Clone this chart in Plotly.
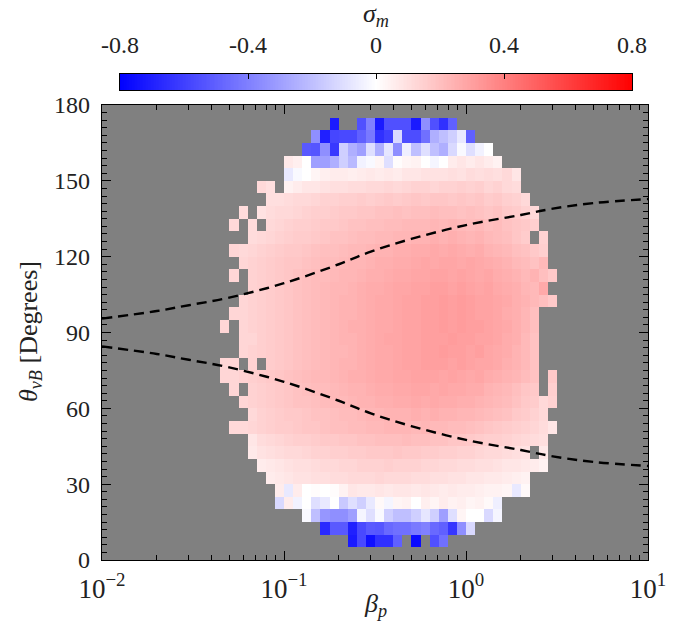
import numpy as np
import plotly.graph_objects as go

# ---------------- data ----------------
# beta_p bins: 20 per decade from 1e-2 to 1e1 ; theta_vB bins: 5 degrees from 0 to 180
BETA_LOG_MIN, BETA_LOG_MAX, BETA_BINS_PER_DECADE = -2, 1, 20
THETA_MIN, THETA_MAX, THETA_STEP = 0, 180, 5

# sigma_m rows: theta-bin index -> (first beta-bin index, values ; None = empty bin)
sigma_rows = {
    34: (25, [-0.72, None, None, -0.55, -0.4, -0.72, -0.55, -0.55, -0.55, -0.72, -0.35, -0.55, -0.65, -0.5]),
    33: (23, [-0.35, -0.7, -0.58, -0.57, -0.57, -0.5, -0.42, -0.65, -0.6, -0.12, -0.56, -0.56, -0.45, -0.25, -0.2, -0.15, -0.07, -0.5]),
    32: (22, [-0.52, -0.53, -0.35, -0.62, -0.15, -0.25, -0.3, -0.1, -0.25, -0.08, -0.35, -0.05, -0.2, -0.1, -0.2, -0.25, -0.12, -0.02, -0.1, -0.04, 0.0]),
    31: (20, [0.07, 0.05, 0.0, -0.3, -0.3, -0.25, -0.15, -0.22, -0.04, -0.02, 0.03, -0.1, 0.01, 0.03, 0.04, 0.0, -0.03, 0.0, 0.06, 0.08, 0.06, 0.08, 0.06, 0.04]),
    30: (20, [-0.07, -0.02, 0.0, 0.03, 0.05, 0.06, 0.06, 0.05, 0.06, 0.07, 0.06, 0.07, 0.06, 0.08, 0.08, 0.09, 0.09, 0.09, 0.1, 0.09, 0.11, 0.1, 0.11, 0.1, 0.12, 0.08]),
    29: (17, [0.12, 0.1, None, 0.04, 0.06, 0.08, 0.08, 0.09, 0.1, 0.1, 0.11, 0.11, 0.12, 0.12, 0.13, 0.12, 0.13, 0.14, 0.14, 0.13, 0.14, 0.14, 0.15, 0.14, 0.15, 0.13, 0.14, 0.12, 0.11]),
    28: (18, [0.1, 0.1, 0.11, 0.12, 0.12, 0.13, 0.14, 0.14, 0.15, 0.15, 0.16, 0.15, 0.16, 0.17, 0.16, 0.17, 0.18, 0.17, 0.18, 0.18, 0.17, 0.18, 0.17, 0.18, 0.16, 0.17, 0.15, 0.14, 0.12]),
    27: (15, [0.11, None, 0.09, 0.11, 0.12, 0.12, 0.13, 0.14, 0.15, 0.15, 0.16, 0.17, 0.17, 0.18, 0.18, 0.19, 0.19, 0.2, 0.19, 0.2, 0.2, 0.21, 0.2, 0.2, 0.19, 0.2, 0.19, 0.18, 0.19, 0.17, 0.16, 0.14, 0.12]),
    26: (14, [0.12, None, 0.11, None, 0.12, 0.13, 0.14, 0.15, 0.15, 0.16, 0.17, 0.17, 0.18, 0.19, 0.19, 0.2, 0.2, 0.21, 0.21, 0.22, 0.22, 0.22, 0.23, 0.22, 0.23, 0.22, 0.21, 0.22, 0.2, 0.21, 0.19, 0.18, 0.17, 0.15]),
    25: (16, [0.11, 0.12, 0.13, 0.14, 0.15, 0.16, 0.16, 0.17, 0.18, 0.19, 0.19, 0.2, 0.21, 0.21, 0.22, 0.22, 0.23, 0.23, 0.24, 0.24, 0.25, 0.24, 0.25, 0.24, 0.23, 0.24, 0.22, 0.21, 0.2, 0.18, 0.16, None, 0.14]),
    24: (14, [0.13, 0.12, 0.13, 0.14, 0.15, 0.16, 0.17, 0.17, 0.18, 0.19, 0.2, 0.2, 0.21, 0.22, 0.22, 0.23, 0.24, 0.24, 0.25, 0.25, 0.26, 0.26, 0.27, 0.26, 0.27, 0.26, 0.25, 0.26, 0.24, 0.23, 0.22, 0.2, 0.19, 0.17, 0.15]),
    23: (15, [0.13, 0.14, 0.15, 0.16, 0.17, 0.18, 0.18, 0.19, 0.2, 0.21, 0.21, 0.22, 0.23, 0.23, 0.24, 0.25, 0.25, 0.26, 0.26, 0.27, 0.28, 0.27, 0.28, 0.28, 0.27, 0.28, 0.27, 0.26, 0.25, 0.24, 0.22, 0.21, 0.19, 0.22]),
    22: (14, [0.13, None, 0.14, 0.15, 0.16, 0.17, 0.18, 0.19, 0.2, 0.21, 0.21, 0.22, 0.23, 0.23, 0.24, 0.25, 0.25, 0.26, 0.27, 0.27, 0.28, 0.28, 0.29, 0.29, 0.28, 0.29, 0.28, 0.27, 0.28, 0.26, 0.25, 0.24, 0.22, 0.24, 0.2, 0.17]),
    21: (16, [0.14, 0.15, 0.16, 0.17, 0.18, 0.19, 0.2, 0.21, 0.22, 0.23, 0.23, 0.24, 0.25, 0.26, 0.26, 0.27, 0.28, 0.28, 0.29, 0.29, 0.3, 0.3, 0.29, 0.3, 0.29, 0.28, 0.29, 0.27, 0.26, 0.25, 0.23, 0.22, 0.27]),
    20: (15, [0.13, 0.14, 0.15, 0.16, 0.17, 0.18, 0.19, 0.2, 0.21, 0.22, 0.23, 0.24, 0.24, 0.25, 0.26, 0.27, 0.27, 0.28, 0.29, 0.29, 0.3, 0.3, 0.31, 0.3, 0.31, 0.3, 0.29, 0.29, 0.28, 0.27, 0.25, 0.24, 0.22, 0.2, 0.17]),
    19: (14, [0.13, 0.13, 0.14, 0.15, 0.16, 0.17, 0.18, 0.19, 0.2, 0.21, 0.22, 0.23, 0.24, 0.24, 0.25, 0.26, 0.27, 0.27, 0.28, 0.29, 0.29, 0.3, 0.3, 0.31, 0.3, 0.31, 0.3, 0.29, 0.29, 0.28, 0.26, 0.25, 0.23, 0.2]),
    18: (13, [0.13, None, 0.13, 0.14, 0.15, 0.16, 0.17, 0.18, 0.19, 0.2, 0.21, 0.22, 0.23, 0.24, 0.25, 0.25, 0.26, 0.27, 0.27, 0.28, 0.29, 0.29, 0.3, 0.3, 0.31, 0.3, 0.31, 0.3, 0.3, 0.29, 0.28, 0.27, 0.25, 0.23, 0.2]),
    17: (15, [0.13, 0.13, 0.15, 0.16, 0.17, 0.18, 0.19, 0.2, 0.21, 0.22, 0.23, 0.24, 0.24, 0.25, 0.26, 0.27, 0.28, 0.28, 0.29, 0.29, 0.3, 0.3, 0.3, 0.31, 0.3, 0.3, 0.29, 0.29, 0.28, 0.26, 0.25, 0.22, 0.19]),
    16: (15, [0.13, 0.14, 0.15, 0.16, 0.17, 0.18, 0.19, 0.2, 0.21, 0.22, 0.23, 0.23, 0.24, 0.25, 0.26, 0.27, 0.27, 0.28, 0.29, 0.29, 0.3, 0.3, 0.31, 0.3, 0.3, 0.29, 0.3, 0.28, 0.27, 0.26, 0.24, 0.22, 0.19]),
    15: (13, [0.13, 0.13, None, 0.14, None, 0.16, 0.17, 0.18, 0.19, 0.2, 0.21, 0.22, 0.23, 0.24, 0.24, 0.25, 0.26, 0.27, 0.27, 0.28, 0.29, 0.29, 0.3, 0.3, 0.3, 0.29, 0.3, 0.29, 0.28, 0.28, 0.27, 0.25, 0.24, 0.22, 0.19]),
    14: (13, [0.13, 0.13, 0.14, 0.15, 0.16, 0.17, 0.18, 0.19, 0.2, 0.21, 0.22, 0.22, 0.23, 0.24, 0.25, 0.25, 0.26, 0.27, 0.27, 0.28, 0.28, 0.29, 0.29, 0.29, 0.28, 0.29, 0.28, 0.27, 0.28, 0.26, 0.25, 0.24, 0.23, 0.21, 0.19, None, 0.17]),
    13: (14, [0.13, None, 0.14, 0.15, 0.16, 0.17, 0.18, 0.19, 0.2, 0.21, 0.21, 0.22, 0.23, 0.24, 0.24, 0.25, 0.26, 0.26, 0.27, 0.27, 0.28, 0.28, 0.27, 0.28, 0.27, 0.27, 0.26, 0.26, 0.24, 0.23, 0.22, 0.2, 0.18, 0.17, None, 0.15]),
    12: (15, [0.13, 0.14, 0.15, 0.16, 0.17, 0.18, 0.19, 0.19, 0.2, 0.21, 0.22, 0.22, 0.23, 0.24, 0.24, 0.25, 0.25, 0.26, 0.26, 0.27, 0.26, 0.27, 0.26, 0.26, 0.25, 0.25, 0.24, 0.23, 0.22, 0.21, 0.19, 0.17, 0.16, 0.12, 0.14]),
    11: (16, [0.12, 0.14, 0.15, 0.16, 0.17, 0.17, 0.18, 0.19, 0.19, 0.2, 0.21, 0.21, 0.22, 0.23, 0.23, 0.24, 0.24, 0.24, 0.25, 0.24, 0.25, 0.24, 0.24, 0.23, 0.23, 0.22, 0.21, 0.2, 0.19, 0.17, 0.16, 0.14, 0.12]),
    10: (14, [0.12, 0.12, 0.13, 0.14, 0.15, 0.16, 0.16, 0.17, 0.18, 0.18, 0.19, 0.2, 0.2, 0.21, 0.21, 0.22, 0.22, 0.23, 0.23, 0.23, 0.22, 0.23, 0.22, 0.22, 0.21, 0.21, 0.2, 0.19, 0.18, 0.17, 0.16, 0.15, 0.14, 0.13, 0.11, 0.08]),
    9: (16, [0.08, 0.11, 0.12, 0.13, 0.14, 0.15, 0.15, 0.16, 0.17, 0.17, 0.18, 0.18, 0.19, 0.19, 0.2, 0.2, 0.2, 0.21, 0.2, 0.2, 0.19, 0.19, 0.18, 0.18, 0.17, 0.16, 0.15, 0.15, 0.14, 0.13, 0.12, 0.11, 0.1]),
    8: (16, [0.07, 0.09, 0.1, 0.11, 0.12, 0.12, 0.13, 0.14, 0.14, 0.15, 0.15, 0.16, 0.16, 0.17, 0.17, 0.17, 0.18, 0.17, 0.17, 0.16, 0.16, 0.15, 0.15, 0.14, 0.14, 0.13, 0.12, 0.12, 0.11, 0.1, 0.09, None, 0.07]),
    7: (17, [0.06, 0.07, 0.08, 0.09, 0.1, 0.1, 0.11, 0.12, 0.12, 0.13, 0.13, 0.14, 0.14, 0.14, 0.15, 0.14, 0.14, 0.14, 0.13, 0.13, 0.12, 0.12, 0.11, 0.11, 0.1, 0.1, 0.09, 0.08, 0.08, 0.07, 0.06, 0.04]),
    6: (18, [0.06, 0.07, 0.08, 0.09, 0.09, 0.1, 0.1, 0.11, 0.11, 0.12, 0.12, 0.12, 0.13, 0.12, 0.12, 0.12, 0.11, 0.11, 0.1, 0.1, 0.09, 0.09, 0.08, 0.08, 0.07, 0.07, 0.06, 0.05, 0.04]),
    5: (19, [0.06, -0.07, 0.06, 0.0, 0.01, 0.0, 0.01, 0.04, 0.08, 0.07, 0.07, 0.08, 0.07, 0.08, 0.08, 0.07, 0.08, 0.07, 0.06, 0.07, 0.06, 0.06, 0.05, 0.04, 0.04, 0.03, -0.07, 0.02]),
    4: (19, [-0.12, 0.06, -0.04, 0.0, -0.1, -0.07, 0.0, -0.17, -0.1, -0.15, -0.07, 0.02, -0.03, 0.03, 0.04, 0.0, 0.05, 0.03, 0.06, 0.04, 0.05, 0.03, 0.04, 0.02, -0.05]),
    3: (22, [-0.02, -0.2, -0.33, -0.35, -0.35, -0.3, -0.03, -0.1, -0.02, -0.15, -0.2, -0.2, -0.15, -0.08, -0.15, -0.3, -0.1, 0.03, 0.0, 0.0, -0.12, -0.03]),
    2: (24, [-0.67, -0.52, -0.52, -0.7, -0.57, -0.52, -0.53, -0.47, -0.45, -0.45, -0.42, -0.4, -0.47, -0.5, -0.63, -0.35, -0.12]),
    1: (27, [-0.72, -0.57, -0.75, -0.65, -0.65, -0.5, None, -0.77, None, -0.55, -0.45]),
}

# dashed boundary curves
curve_beta = [0.01, 0.02, 0.03, 0.05, 0.1, 0.2, 0.3, 0.5, 1, 2, 3, 5, 10]
curve_theta_upper = [95.5, 98.5, 100.8, 103.8, 109.5, 117.0, 122.0, 127.0, 132.5, 136.5, 139.0, 141.2, 142.8]
curve_theta_lower = [84.5, 81.5, 79.2, 76.2, 70.5, 63.0, 58.0, 53.0, 47.5, 43.5, 41.0, 38.8, 37.2]

# axis ticks
x_tickvals = [0.01, 0.1, 1, 10]
x_ticktext = ["10<sup>−2</sup>", "10<sup>−1</sup>", "10<sup>0</sup>", "10<sup>1</sup>"]
y_tickvals = [0, 30, 60, 90, 120, 150, 180]
cbar_tickvals = [-0.8, -0.4, 0, 0.4, 0.8]
cbar_ticktext = ["-0.8", "-0.4", "0", "0.4", "0.8"]
ZMIN, ZMAX = -0.8, 0.8

# ---------------- build grid ----------------
n_beta = (BETA_LOG_MAX - BETA_LOG_MIN) * BETA_BINS_PER_DECADE
beta_edges = np.logspace(BETA_LOG_MIN, BETA_LOG_MAX, n_beta + 1)
theta_edges = np.arange(THETA_MIN, THETA_MAX + THETA_STEP, THETA_STEP)
n_theta = len(theta_edges) - 1
z = [[None] * n_beta for _ in range(n_theta)]
for j, (k0, vals) in sigma_rows.items():
    for i, v in enumerate(vals):
        z[j][k0 + i] = v

bwr = [[0.0, "rgb(0,0,255)"], [0.5, "rgb(255,255,255)"], [1.0, "rgb(255,0,0)"]]
FONT = "Liberation Serif, DejaVu Serif, serif"
TXT = "#222"
tickfont = dict(family=FONT, size=24, color=TXT)

fig = go.Figure()
fig.add_trace(go.Heatmap(x=beta_edges, y=theta_edges, z=z, colorscale=bwr, zmin=ZMIN, zmax=ZMAX,
                         showscale=False, hoverongaps=False, xaxis="x", yaxis="y"))
for th in (curve_theta_upper, curve_theta_lower):
    fig.add_trace(go.Scatter(x=curve_beta, y=th, mode="lines", line_shape="spline",
                             line=dict(color="black", width=2.4, dash="10px,6px"),
                             showlegend=False, xaxis="x", yaxis="y"))

# colorbar as a gradient strip on its own axes
cb_vals = np.linspace(ZMIN, ZMAX, 321)
fig.add_trace(go.Heatmap(x=cb_vals, y=[0, 1], z=[cb_vals], colorscale=bwr, zmin=ZMIN, zmax=ZMAX,
                         showscale=False, xaxis="x2", yaxis="y2"))

W, H = 680, 639
ml, mr, mt, mb = 102, 32, 10, 79
ph = H - mt - mb
main_top = (560 - 105) / ph
cb_lo, cb_hi = (560 - 90) / ph, (560 - 74) / ph
pw = W - ml - mr
cb_x0, cb_x1 = (120 - ml) / pw, (632 - ml) / pw

minor_x = [d * 10.0 ** e for e in range(-2, 1) for d in range(2, 10)]

fig.update_layout(
    width=W, height=H, margin=dict(l=ml, r=mr, t=mt, b=mb, autoexpand=False),
    paper_bgcolor="white", plot_bgcolor="#808080",
    font=dict(family=FONT, size=23, color=TXT),
    showlegend=False,
    xaxis=dict(type="log", range=[BETA_LOG_MIN, BETA_LOG_MAX], domain=[0, 1], automargin=False,
               tickvals=x_tickvals, ticktext=x_ticktext, tickfont=dict(family=FONT, size=27, color=TXT),
               ticks="inside", ticklen=9, tickcolor="black",
               showline=True, linecolor="black", linewidth=1.2, mirror="allticks", showgrid=False,
               zeroline=False, ticklabelstandoff=4,
               minor=dict(tickvals=minor_x, ticks="inside", ticklen=5, tickcolor="black", showgrid=False)),
    yaxis=dict(range=[THETA_MIN, THETA_MAX], domain=[0, main_top], tickvals=y_tickvals, automargin=False,
               tickfont=tickfont, ticks="inside", ticklen=9, tickcolor="black",
               showline=True, linecolor="black", linewidth=1.2, mirror="allticks", showgrid=False,
               zeroline=False, ticklabelstandoff=6,
               minor=dict(dtick=3, ticks="inside", ticklen=5, tickcolor="black", showgrid=False)),
    xaxis2=dict(domain=[cb_x0, cb_x1], range=[ZMIN, ZMAX], anchor="y2", side="top", automargin=False,
                tickvals=cbar_tickvals, ticktext=cbar_ticktext, tickfont=tickfont,
                ticks="inside", ticklen=5,
                tickcolor="black", showline=True, linecolor="black", linewidth=1.2, mirror=True,
                showgrid=False, zeroline=False, ticklabelstandoff=10),
    yaxis2=dict(domain=[cb_lo, cb_hi], range=[0, 1], anchor="x2", showticklabels=False, automargin=False,
                ticks="", showline=True, linecolor="black", linewidth=1.2, mirror=True,
                showgrid=False, zeroline=False),
    annotations=[
        dict(text="<i>β</i><sub><i>p</i></sub>", xref="paper", yref="paper", x=0.5, y=(560 - 605) / ph,
             showarrow=False, font=dict(family=FONT, size=26, color=TXT), xanchor="center", yanchor="middle"),
        dict(text="<i>θ</i><sub><i>vB</i></sub> [Degrees]", xref="paper", yref="paper",
             x=(30 - ml) / pw, y=(560 - 332) / ph, textangle=-90,
             showarrow=False, font=dict(family=FONT, size=26, color=TXT), xanchor="center", yanchor="middle"),
        dict(text="<i>σ</i><sub><i>m</i></sub>", xref="paper", yref="paper", x=(376 - ml) / pw,
             y=(560 - 15) / ph, showarrow=False, font=dict(family=FONT, size=26, color=TXT),
             xanchor="center", yanchor="middle"),
    ],
)

fig.write_html("out.html")
